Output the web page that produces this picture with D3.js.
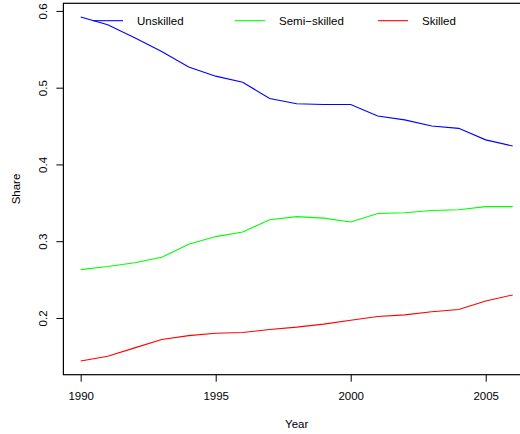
<!DOCTYPE html>
<html>
<head>
<meta charset="utf-8">
<script src="https://cdn.jsdelivr.net/npm/d3@7"></script>
<style>
  html, body { margin: 0; padding: 0; background: #fff; }
  svg text { font-family: "Liberation Sans", Arial, Helvetica, sans-serif; fill: #000; }
</style>
</head>
<body>
<svg id="chart" width="520" height="434"></svg>
<script>
// Employment shares by skill group, 1990–2006
const years = [1990, 1991, 1992, 1993, 1994, 1995, 1996, 1997, 1998, 1999, 2000, 2001, 2002, 2003, 2004, 2005, 2006];
const unskilled = [0.592, 0.582, 0.565, 0.547, 0.527, 0.515, 0.507, 0.486, 0.479, 0.478, 0.478, 0.463, 0.458, 0.450, 0.447, 0.432, 0.424];
const semiSkilled = [0.263, 0.267, 0.272, 0.279, 0.296, 0.306, 0.312, 0.328, 0.332, 0.330, 0.325, 0.336, 0.337, 0.340, 0.341, 0.345, 0.345];
const skilled = [0.144, 0.150, 0.161, 0.172, 0.177, 0.180, 0.181, 0.185, 0.188, 0.192, 0.197, 0.202, 0.204, 0.208, 0.211, 0.222, 0.230];

const seriesNames = ["Unskilled", "Semi\u2212skilled", "Skilled"];
const seriesColors = ["#0000ff", "#00ff00", "#ff0000"];
const seriesValues = [unskilled, semiSkilled, skilled];

const xTicks = [1990, 1995, 2000, 2005];
const yTicks = [0.2, 0.3, 0.4, 0.5, 0.6];

const svg = d3.select("#chart");

// Plot region; the right edge runs past the canvas
const plot = { left: 63.4, right: 530, top: 3.3, bottom: 374.7 };

// Axis limits padded by 4% on each side
function padded(ext) {
  const d = (ext[1] - ext[0]) * 0.04;
  return [ext[0] - d, ext[1] + d];
}
const allValues = seriesValues.flat();
const x = d3.scaleLinear().domain(padded(d3.extent(years))).range([plot.left, plot.right]);
const y = d3.scaleLinear().domain(padded(d3.extent(allValues))).range([plot.bottom, plot.top]);

// Lines
const line = d3.line().x((d, i) => x(years[i])).y(d => y(d));
seriesValues.forEach((vals, k) => {
  svg.append("path")
    .datum(vals)
    .attr("d", line)
    .attr("fill", "none")
    .attr("stroke", seriesColors[k])
    .attr("stroke-width", 1.1);
});

// Plot box
svg.append("rect")
  .attr("x", plot.left).attr("y", plot.top)
  .attr("width", plot.right - plot.left).attr("height", plot.bottom - plot.top)
  .attr("fill", "none").attr("stroke", "#000").attr("stroke-width", 1.2);

// X axis
const xAxis = d3.axisBottom(x).tickValues(xTicks).tickSize(7).tickPadding(10).tickFormat(d3.format("d"));
const gx = svg.append("g").attr("transform", `translate(0,${plot.bottom})`).call(xAxis);
gx.select(".domain").remove();
gx.selectAll("line").attr("stroke", "#000");
gx.selectAll("text").attr("font-size", "11.5px").attr("font-family", "Liberation Sans, Arial, sans-serif").attr("fill", "#000");

// Y axis with rotated labels
const yAxis = d3.axisLeft(y).tickValues(yTicks).tickSize(7).tickFormat(d3.format(".1f"));
const gy = svg.append("g").attr("transform", `translate(${plot.left},0)`).call(yAxis);
gy.select(".domain").remove();
gy.selectAll("line").attr("stroke", "#000");
gy.selectAll("text")
  .attr("x", null).attr("dy", null)
  .attr("text-anchor", "middle")
  .attr("transform", "translate(-16.5,0) rotate(-90)")
  .attr("font-size", "11.5px").attr("font-family", "Liberation Sans, Arial, sans-serif").attr("fill", "#000");

// Axis titles
svg.append("text")
  .attr("x", (plot.left + plot.right) / 2).attr("y", 428)
  .attr("text-anchor", "middle").attr("font-size", "11.5px")
  .text("Year");
svg.append("text")
  .attr("transform", `translate(20,${(plot.top + plot.bottom) / 2}) rotate(-90)`)
  .attr("text-anchor", "middle").attr("font-size", "11.5px")
  .text("Share");

// Legend, laid out horizontally along the top
const legendX = [93, 235, 378];
const legendY = 20.7;
const legend = svg.append("g");
seriesNames.forEach((name, k) => {
  legend.append("line")
    .attr("x1", legendX[k]).attr("x2", legendX[k] + 30)
    .attr("y1", legendY).attr("y2", legendY)
    .attr("stroke", seriesColors[k]).attr("stroke-width", 1.1);
  legend.append("text")
    .attr("x", legendX[k] + 44).attr("y", legendY + 4.2)
    .attr("font-size", "11.5px")
    .text(name);
});
</script>
</body>
</html>
